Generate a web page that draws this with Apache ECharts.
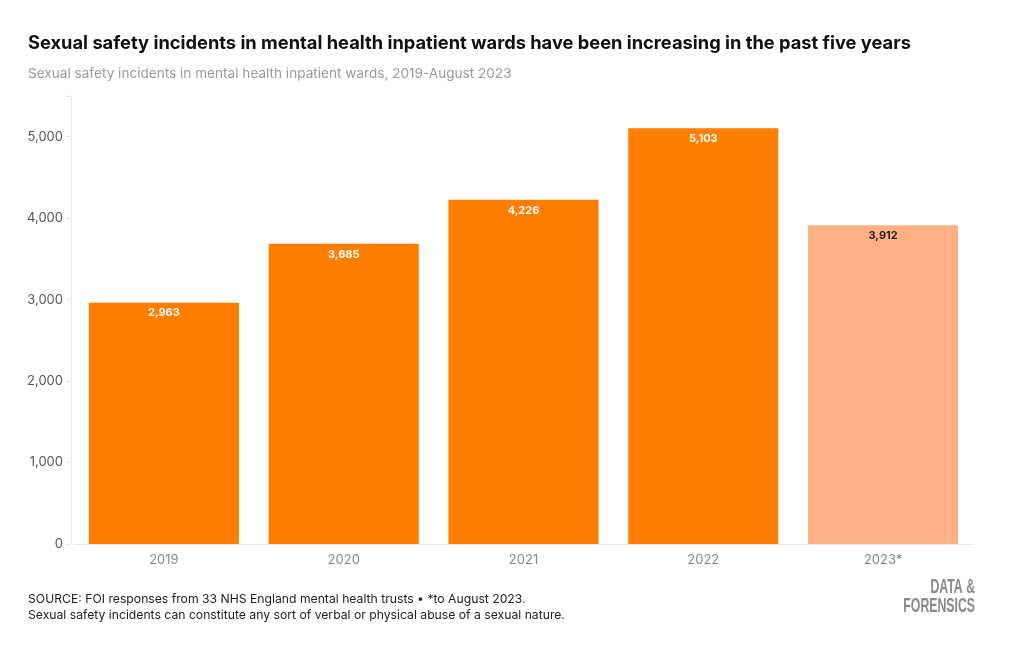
<!DOCTYPE html>
<html><head><meta charset="utf-8">
<script src="https://cdn.jsdelivr.net/npm/echarts@6/dist/echarts.min.js"></script>
<style>html,body{margin:0;padding:0;background:#fff}#c{width:1020px;height:650px}</style>
</head><body><div id="c"></div>
<script>
const categories = ['2019','2020','2021','2022','2023*'];
const incidents = [2963, 3685, 4226, 5103, 3912];
const partialYear = [false, false, false, false, true];
const yTicks = [0, 1000, 2000, 3000, 4000, 5000];

const FONT = 'Inter, "Noto Sans", sans-serif';
const chart = echarts.init(document.getElementById('c'));
chart.setOption({
  animation: false,
  textStyle: { fontFamily: FONT },
  title: [
    { text: 'Sexual safety incidents in mental health inpatient wards have been increasing in the past five years',
      left: 28, top: 35, padding: 0, textStyle: { fontSize: 18.3, fontWeight: 'bold', color: '#111', fontFamily: FONT } },
    { text: 'Sexual safety incidents in mental health inpatient wards, 2019-August 2023',
      left: 28, top: 67, padding: 0, textStyle: { fontSize: 13.6, fontWeight: 'normal', color: '#999', fontFamily: FONT } }
  ],
  grid: { left: 74, right: 47, top: 96, bottom: 106, containLabel: false },
  xAxis: {
    type: 'category', data: categories,
    axisLine: { lineStyle: { color: '#e6e6e6' } },
    axisTick: { alignWithLabel: true, length: 5, lineStyle: { color: '#e6e6e6' } },
    axisLabel: { color: '#888', fontSize: 13, margin: 10, fontFamily: FONT }
  },
  yAxis: {
    type: 'value', min: 0, max: 5500, interval: 1000, offset: 3,
    axisLine: { show: true, lineStyle: { color: '#e6e6e6' } },
    axisTick: { show: true, length: 5, lineStyle: { color: '#e6e6e6' } },
    splitLine: { show: false },
    axisLabel: { color: '#555', fontSize: 13, margin: 8, fontFamily: FONT,
      formatter: v => yTicks.includes(v) ? v.toLocaleString('en-GB') : '' }
  },
  series: [{
    type: 'bar', barCategoryGap: '16.5%',
    data: incidents.map((v, i) => ({
      value: v,
      itemStyle: { color: partialYear[i] ? '#FFB185' : '#FF7D00' },
      label: { color: partialYear[i] ? '#222' : '#fff' }
    })),
    label: { show: true, position: 'insideTop', distance: 5, fontSize: 11, fontWeight: 'bold',
      fontFamily: FONT, formatter: p => p.value.toLocaleString('en-GB') }
  }],
  graphic: [
    { type: 'text', left: 28, top: 591, style: { text: 'SOURCE: FOI responses from 33 NHS England mental health trusts • *to August 2023.\nSexual safety incidents can constitute any sort of verbal or physical abuse of a sexual nature.',
      fill: '#222', font: '12.2px ' + FONT, lineHeight: 16 } },
    { type: 'text', x: 975, y: 577, scaleX: 0.585, originX: 0, originY: 0,
      style: { text: 'DATA &\nFORENSICS', fill: '#8a8a8a', align: 'right', verticalAlign: 'top',
      font: 'bold 21px "Liberation Sans", sans-serif', lineHeight: 19.5 } }
  ]
});
</script></body></html>
